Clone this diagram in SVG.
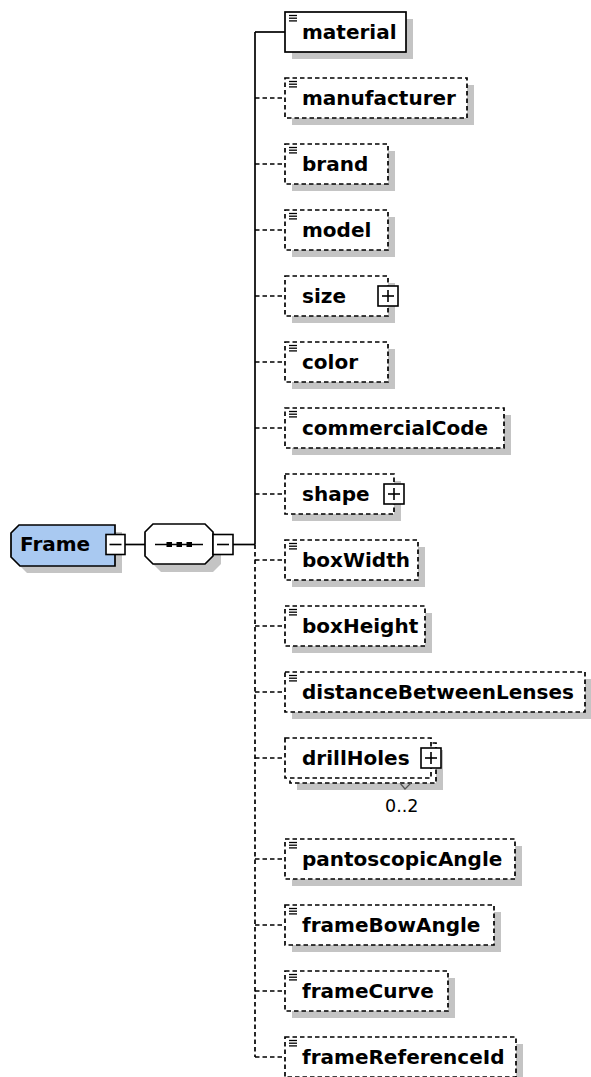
<svg xmlns="http://www.w3.org/2000/svg" width="591" height="1077" viewBox="0 0 591 1077">
<style>
.sh{fill:#c4c4c4;stroke:none}
.bx{fill:#fff;stroke:#000;stroke-width:1.7}
.opt{stroke-dasharray:4.5 3}
.ln{fill:none;stroke:#000;stroke-width:1.7}
.lbl{font-family:"DejaVu Sans",sans-serif;font-weight:bold;font-size:20px;fill:#000}
.occ{font-family:"DejaVu Sans",sans-serif;font-size:17.5px;fill:#000}
.pm{fill:#fff;stroke:#000;stroke-width:1.6}
</style>
<defs>
<g id="ico" stroke="#000" stroke-width="1.3">
<line x1="289" y1="3.5" x2="297" y2="3.5"/>
<line x1="289" y1="6.2" x2="297" y2="6.2"/>
<line x1="289" y1="8.9" x2="297" y2="8.9"/>
</g>
<g id="plus">
<rect class="pm" x="-10" y="-10" width="20" height="20"/>
<line x1="-6" y1="0" x2="6" y2="0" stroke="#000" stroke-width="1.6"/>
<line x1="0" y1="-6" x2="0" y2="6" stroke="#000" stroke-width="1.6"/>
</g>
</defs>

<g id="connectors">
<line class="ln" x1="125" y1="544.5" x2="145" y2="544.5"/>
<line class="ln" x1="233" y1="544.5" x2="255" y2="544.5"/>
<line class="ln" x1="255" y1="32" x2="255" y2="544.5"/>
<line class="ln" x1="255" y1="32" x2="285" y2="32"/>
<line class="ln opt" x1="255" y1="544.5" x2="255" y2="1057"/>
<line class="ln opt" x1="255" y1="98" x2="285" y2="98"/>
<line class="ln opt" x1="255" y1="164" x2="285" y2="164"/>
<line class="ln opt" x1="255" y1="230" x2="285" y2="230"/>
<line class="ln opt" x1="255" y1="296" x2="285" y2="296"/>
<line class="ln opt" x1="255" y1="362" x2="285" y2="362"/>
<line class="ln opt" x1="255" y1="428" x2="285" y2="428"/>
<line class="ln opt" x1="255" y1="494" x2="285" y2="494"/>
<line class="ln opt" x1="255" y1="560" x2="285" y2="560"/>
<line class="ln opt" x1="255" y1="626" x2="285" y2="626"/>
<line class="ln opt" x1="255" y1="692" x2="285" y2="692"/>
<line class="ln opt" x1="255" y1="758" x2="285" y2="758"/>
<line class="ln opt" x1="255" y1="859" x2="285" y2="859"/>
<line class="ln opt" x1="255" y1="925" x2="285" y2="925"/>
<line class="ln opt" x1="255" y1="991" x2="285" y2="991"/>
<line class="ln opt" x1="255" y1="1057" x2="285" y2="1057"/>
</g>

<g id="node-Frame">
<path class="sh" transform="translate(7,7)" d="M11,533 L19,525 L115,525 L115,566 L20,566 L11,557 Z"/>
<path d="M11,533 L19,525 L115,525 L115,566 L20,566 L11,557 Z" fill="#a9c9f1" stroke="#000" stroke-width="1.7"/>
<text class="lbl" x="20" y="551">Frame</text>
<rect class="pm" x="106" y="534.5" width="19" height="20"/>
<line x1="109.5" y1="544.5" x2="121.5" y2="544.5" stroke="#000" stroke-width="1.6"/>
</g>

<g id="node-sequence">
<polygon class="sh" transform="translate(8,8)" points="145,532 153,524 205,524 213,532 213,556 205,564 153,564 145,556"/>
<polygon points="145,532 153,524 205,524 213,532 213,556 205,564 153,564 145,556" fill="#fff" stroke="#000" stroke-width="1.7"/>
<line x1="155" y1="544.5" x2="203" y2="544.5" stroke="#000" stroke-width="1.7"/>
<rect x="166.5" y="542" width="5.5" height="5" fill="#000"/>
<rect x="176.5" y="542" width="5.5" height="5" fill="#000"/>
<rect x="186.5" y="542" width="5.5" height="5" fill="#000"/>
<rect class="pm" x="213" y="534.5" width="20" height="20"/>
<line x1="217" y1="544.5" x2="229" y2="544.5" stroke="#000" stroke-width="1.6"/>
</g>

<g id="node-material">
<rect class="sh" x="292" y="19" width="121" height="40"/>
<rect class="bx" x="285" y="12" width="121" height="40"/>
<use href="#ico" y="12"/>
<text class="lbl" x="302" y="38.5">material</text>
</g>

<g id="node-manufacturer">
<rect class="sh" x="292" y="85" width="182" height="40"/>
<rect class="bx opt" x="285" y="78" width="182" height="40"/>
<use href="#ico" y="78"/>
<text class="lbl" x="302" y="104.5">manufacturer</text>
</g>

<g id="node-brand">
<rect class="sh" x="292" y="151" width="103" height="40"/>
<rect class="bx opt" x="285" y="144" width="103" height="40"/>
<use href="#ico" y="144"/>
<text class="lbl" x="302" y="170.5">brand</text>
</g>

<g id="node-model">
<rect class="sh" x="292" y="217" width="103" height="40"/>
<rect class="bx opt" x="285" y="210" width="103" height="40"/>
<use href="#ico" y="210"/>
<text class="lbl" x="302" y="236.5">model</text>
</g>

<g id="node-size">
<rect class="sh" x="292" y="283" width="103" height="40"/>
<rect class="bx opt" x="285" y="276" width="103" height="40"/>
<text class="lbl" x="302" y="302.5">size</text>
<use href="#plus" x="388" y="296"/>
</g>

<g id="node-color">
<rect class="sh" x="292" y="349" width="103" height="40"/>
<rect class="bx opt" x="285" y="342" width="103" height="40"/>
<use href="#ico" y="342"/>
<text class="lbl" x="302" y="368.5">color</text>
</g>

<g id="node-commercialCode">
<rect class="sh" x="292" y="415" width="219" height="40"/>
<rect class="bx opt" x="285" y="408" width="219" height="40"/>
<use href="#ico" y="408"/>
<text class="lbl" x="302" y="434.5">commercialCode</text>
</g>

<g id="node-shape">
<rect class="sh" x="292" y="481" width="109" height="40"/>
<rect class="bx opt" x="285" y="474" width="109" height="40"/>
<text class="lbl" x="302" y="500.5">shape</text>
<use href="#plus" x="394" y="494"/>
</g>

<g id="node-boxWidth">
<rect class="sh" x="292" y="547" width="133" height="40"/>
<rect class="bx opt" x="285" y="540" width="133" height="40"/>
<use href="#ico" y="540"/>
<text class="lbl" x="302" y="566.5">boxWidth</text>
</g>

<g id="node-boxHeight">
<rect class="sh" x="292" y="613" width="140" height="40"/>
<rect class="bx opt" x="285" y="606" width="140" height="40"/>
<use href="#ico" y="606"/>
<text class="lbl" x="302" y="632.5">boxHeight</text>
</g>

<g id="node-distanceBetweenLenses">
<rect class="sh" x="292" y="679" width="300" height="40"/>
<rect class="bx opt" x="285" y="672" width="300" height="40"/>
<use href="#ico" y="672"/>
<text class="lbl" x="302" y="698.5">distanceBetweenLenses</text>
</g>

<g id="node-drillHoles">
<rect class="sh" x="297" y="750" width="146" height="40"/>
<rect class="bx opt" x="290" y="743" width="146" height="40"/>
<rect class="bx opt" x="285" y="738" width="146" height="40"/>
<text class="lbl" x="302" y="764.5">drillHoles</text>
<use href="#plus" x="431" y="758"/>
<polyline points="400,783 405,789 411,783" fill="none" stroke="#555" stroke-width="1.2"/>
<text class="occ" x="385" y="812">0..2</text>
</g>

<g id="node-pantoscopicAngle">
<rect class="sh" x="292" y="846" width="230" height="40"/>
<rect class="bx opt" x="285" y="839" width="230" height="40"/>
<use href="#ico" y="839"/>
<text class="lbl" x="302" y="865.5">pantoscopicAngle</text>
</g>

<g id="node-frameBowAngle">
<rect class="sh" x="292" y="912" width="209" height="40"/>
<rect class="bx opt" x="285" y="905" width="209" height="40"/>
<use href="#ico" y="905"/>
<text class="lbl" x="302" y="931.5">frameBowAngle</text>
</g>

<g id="node-frameCurve">
<rect class="sh" x="292" y="978" width="163" height="40"/>
<rect class="bx opt" x="285" y="971" width="163" height="40"/>
<use href="#ico" y="971"/>
<text class="lbl" x="302" y="997.5">frameCurve</text>
</g>

<g id="node-frameReferenceId">
<rect class="sh" x="292" y="1044" width="231" height="40"/>
<rect class="bx opt" x="285" y="1037" width="231" height="40"/>
<use href="#ico" y="1037"/>
<text class="lbl" x="302" y="1063.5">frameReferenceId</text>
</g>
</svg>
